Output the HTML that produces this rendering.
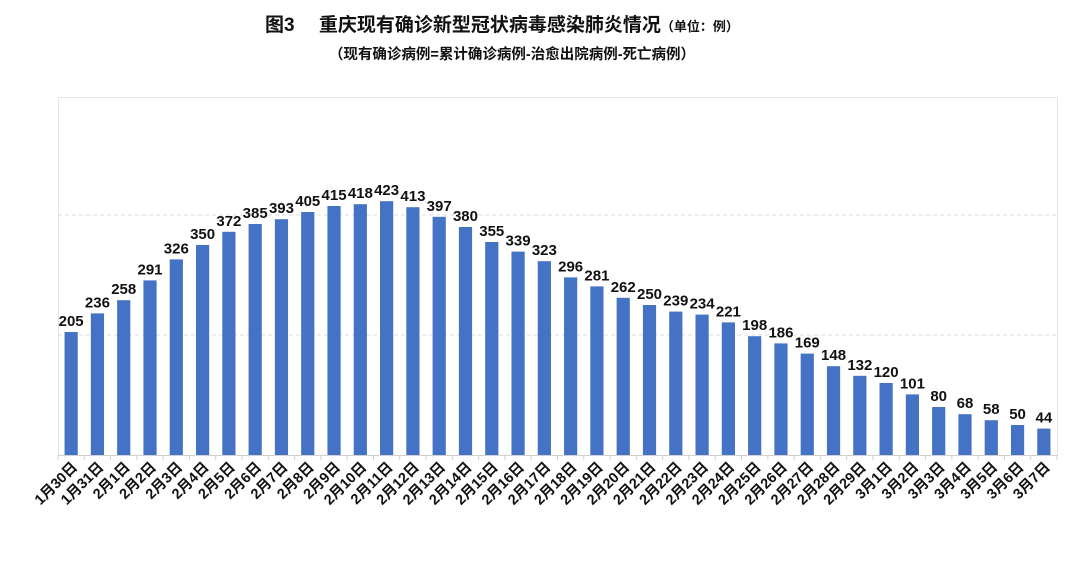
<!DOCTYPE html>
<html><head><meta charset="utf-8"><style>
body{margin:0;background:#fff;width:1080px;height:560px;overflow:hidden;font-family:"Liberation Sans","Noto Sans CJK SC",sans-serif}
</style></head><body>
<svg id="chart" width="1080" height="560" xmlns="http://www.w3.org/2000/svg" font-family="Liberation Sans, Noto Sans CJK SC, sans-serif">
<text x="265" y="31" font-size="19" font-weight="bold" fill="#111">图3　 重庆现有确诊新型冠状病毒感染肺炎情况<tspan font-size="13">（单位：例）</tspan></text>
<text x="512" y="59" font-size="14.5" font-weight="bold" fill="#111" text-anchor="middle">（现有确诊病例=累计确诊病例-治愈出院病例-死亡病例）</text>
<rect x="58.5" y="97.5" width="999" height="358" fill="none" stroke="#e4e4e4"/>
<g id="grid"></g><g id="bars"></g><g id="labels"></g><g id="xaxis"></g>
</svg>
<script>
const categories=["1月30日","1月31日","2月1日","2月2日","2月3日","2月4日","2月5日","2月6日","2月7日","2月8日","2月9日","2月10日","2月11日","2月12日","2月13日","2月14日","2月15日","2月16日","2月17日","2月18日","2月19日","2月20日","2月21日","2月22日","2月23日","2月24日","2月25日","2月26日","2月27日","2月28日","2月29日","3月1日","3月2日","3月3日","3月4日","3月5日","3月6日","3月7日"];
const values=[205,236,258,291,326,350,372,385,393,405,415,418,423,413,397,380,355,339,323,296,281,262,250,239,234,221,198,186,169,148,132,120,101,80,68,58,50,44];
const gridTicks=[200,400];
const NS="http://www.w3.org/2000/svg";
const L=58,R=1057,B=455,T=95,YMAX=600;
const bw=(R-L)/categories.length;
const x=i=>L+bw*(i+0.5);
const y=v=>B-(B-T)*v/YMAX;
function mk(t,a,p){const e=document.createElementNS(NS,t);for(const k in a)e.setAttribute(k,a[k]);document.getElementById(p).appendChild(e);return e;}
gridTicks.forEach(v=>{
 const g=mk('line',{x1:L,x2:R,y1:y(v),y2:y(v),stroke:'#ddd','stroke-dasharray':'4,3'},'grid');
 
 
});
const ax=mk('line',{x1:L,x2:R,y1:B+0.5,y2:B+0.5,stroke:'#d0d0d0'},'xaxis');


for(let i=0;i<=categories.length;i++){
 const t=mk('line',{x1:L+bw*i,x2:L+bw*i,y1:B,y2:B+5,stroke:'#d0d0d0'},'xaxis');
 
 
}
values.forEach((v,i)=>{
 const r=mk('rect',{x:x(i)-6.6,y:y(v),width:13.2,height:B-y(v),fill:'#4472c4'},'bars');
 
 
 const t=mk('text',{x:x(i),y:y(v)-6,'font-size':15,'font-weight':'bold','text-anchor':'middle',fill:'#111'},'labels');
 t.textContent=v;
 
 
 const c=mk('text',{x:x(i)+7,y:B+13,'font-size':14.5,'font-weight':'bold','text-anchor':'end',fill:'#111',transform:`rotate(-45 ${x(i)+7} ${B+13})`},'xaxis');
 c.textContent=categories[i];
 
 
});
</script>
</body></html>
